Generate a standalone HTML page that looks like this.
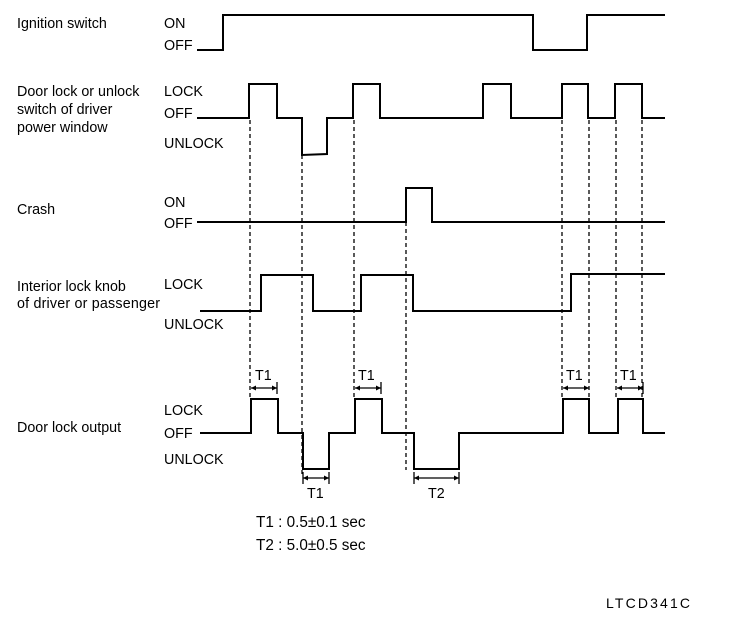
<!DOCTYPE html>
<html><head><meta charset="utf-8"><style>
html,body{margin:0;padding:0;background:#fff;}
svg{display:block}
text{font-family:"Liberation Sans",Arial,sans-serif;font-size:14.3px;fill:#000;}
</style></head><body>
<svg width="752" height="624" viewBox="0 0 752 624" xmlns="http://www.w3.org/2000/svg">
<g>
<text x="17" y="28">Ignition switch</text>
<text x="17" y="96">Door lock or unlock</text>
<text x="17" y="114">switch of driver</text>
<text x="17" y="132">power window</text>
<text x="17" y="214">Crash</text>
<text x="17" y="291">Interior lock knob</text>
<text x="17" y="308" textLength="143">of driver or passenger</text>
<text x="17" y="432">Door lock output</text>

<text x="164" y="28">ON</text>
<text x="164" y="50">OFF</text>
<text x="164" y="96">LOCK</text>
<text x="164" y="118">OFF</text>
<text x="164" y="148">UNLOCK</text>
<text x="164" y="207">ON</text>
<text x="164" y="228">OFF</text>
<text x="164" y="289">LOCK</text>
<text x="164" y="329">UNLOCK</text>
<text x="164" y="415">LOCK</text>
<text x="164" y="438">OFF</text>
<text x="164" y="464">UNLOCK</text>

<text x="256" y="527" style="font-size:15.3px">T1 : 0.5±0.1 sec</text>
<text x="256" y="550" style="font-size:15.3px">T2 : 5.0±0.5 sec</text>
<text x="606" y="608" style="font-size:14px" textLength="84">LTCD341C</text>

<text x="255" y="380">T1</text>
<text x="358" y="380">T1</text>
<text x="566" y="380">T1</text>
<text x="620" y="380">T1</text>
<text x="307" y="498">T1</text>
<text x="428" y="498">T2</text>
</g>
<g fill="none" stroke="#000" stroke-width="2">
<polyline points="197,50 223,50 223,15 533,15 533,50 587,50 587,15 665,15"/>
<polyline points="197,118 249,118 249,84 277,84 277,118 302,118 302,155 327,154 327,118 353,118 353,84 380,84 380,118 483,118 483,84 511,84 511,118 562,118 562,84 588,84 588,118 615,118 615,84 642,84 642,118 665,118"/>
<polyline points="197,222 406,222 406,188 432,188 432,222 665,222"/>
<polyline points="200,311 261,311 261,275 313,275 313,311 361,311 361,275 413,275 413,311 571,311 571,274 665,274"/>
<polyline points="200,433 251,433 251,399 278,399 278,433 303,433 303,469 329,469 329,433 355,433 355,399 382,399 382,433 414,433 414,469 459,469 459,433 563,433 563,399 589,399 589,433 618,433 618,399 643,399 643,433 665,433"/>
</g>
<g stroke="#000" stroke-width="1.3" stroke-dasharray="4,3">
<line x1="250" y1="120" x2="250" y2="400"/>
<line x1="302" y1="155" x2="302" y2="476"/>
<line x1="354" y1="120" x2="354" y2="400"/>
<line x1="406" y1="222" x2="406" y2="470"/>
<line x1="562" y1="120" x2="562" y2="400"/>
<line x1="589" y1="120" x2="589" y2="400"/>
<line x1="616" y1="120" x2="616" y2="400"/>
<line x1="642" y1="120" x2="642" y2="400"/>
</g>
<g stroke="#000" stroke-width="1.3">
<line x1="251" y1="388" x2="277" y2="388"/><line x1="277" y1="382" x2="277" y2="394"/>
<line x1="355" y1="388" x2="381" y2="388"/><line x1="381" y1="382" x2="381" y2="394"/>
<line x1="563" y1="388" x2="589" y2="388"/>
<line x1="617" y1="388" x2="643" y2="388"/><line x1="643" y1="382" x2="643" y2="394"/>
<line x1="303" y1="478" x2="329" y2="478"/><line x1="303" y1="472" x2="303" y2="484"/><line x1="329" y1="472" x2="329" y2="484"/>
<line x1="414" y1="478" x2="459" y2="478"/><line x1="414" y1="472" x2="414" y2="484"/><line x1="459" y1="472" x2="459" y2="484"/>
</g>
<g fill="#000">
<path d="M251,388 l5,-2.5 v5z M277,388 l-5,-2.5 v5z"/>
<path d="M355,388 l5,-2.5 v5z M381,388 l-5,-2.5 v5z"/>
<path d="M563,388 l5,-2.5 v5z M589,388 l-5,-2.5 v5z"/>
<path d="M617,388 l5,-2.5 v5z M643,388 l-5,-2.5 v5z"/>
<path d="M303,478 l5,-2.5 v5z M329,478 l-5,-2.5 v5z"/>
<path d="M414,478 l5,-2.5 v5z M459,478 l-5,-2.5 v5z"/>
</g>
</svg>
</body></html>
